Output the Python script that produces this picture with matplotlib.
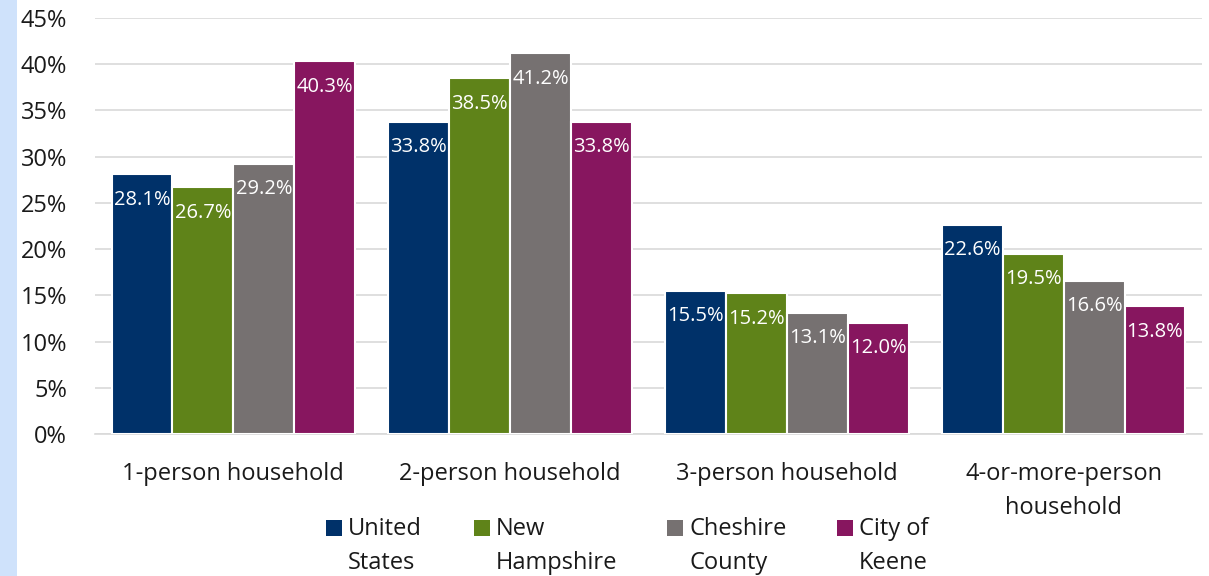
import matplotlib
matplotlib.use('Agg')
from matplotlib import pyplot as plt
from matplotlib.patches import Rectangle
import numpy as np

plt.rcParams['font.family'] = ['Open Sans', 'DejaVu Sans']

categories = ["1-person household", "2-person household", "3-person household",
              "4-or-more-person\nhousehold"]
series_names = ["United\nStates", "New\nHampshire", "Cheshire\nCounty", "City of\nKeene"]
united_states = [28.1, 33.8, 15.5, 22.6]
new_hampshire = [26.7, 38.5, 15.2, 19.5]
cheshire_county = [29.2, 41.2, 13.1, 16.6]
city_of_keene = [40.3, 33.8, 12.0, 13.8]
colors = ["#003169", "#5f8319", "#767171", "#87165f"]

W, H = 1209, 576
fig = plt.figure(figsize=(W / 100, H / 100), dpi=100)
# light blue strip on the left edge
fig.patches.append(Rectangle((0, 0), 17 / W, 1, transform=fig.transFigure,
                             facecolor="#cfe2fb", edgecolor="none", zorder=-1))
ax = fig.add_axes([95 / W, 1 - 434 / H, 1107 / W, (434 - 18) / H])

x = np.arange(len(categories))
width = 0.22
all_series = [united_states, new_hampshire, cheshire_county, city_of_keene]
for i, (vals, col) in enumerate(zip(all_series, colors)):
    bars = ax.bar(x + (i - 1.5) * width, vals, width, color=col, edgecolor="white",
                  linewidth=1.5, zorder=3)
    for b, v in zip(bars, vals):
        ax.text(b.get_x() + b.get_width() / 2, v - 2.75, f"{v:.1f}%", ha="center",
                va="center", color="white", fontsize=14.5, zorder=4)

ax.set_xlim(-0.5, 3.5)
ax.set_ylim(0, 45)
ax.set_yticks(np.arange(0, 46, 5))
ax.set_yticklabels([f"{t}%" for t in range(0, 46, 5)])
ax.set_xticks(x)
ax.set_xticklabels(categories, linespacing=1.55)
ax.tick_params(axis="both", length=0, labelsize=17, colors="#1a1a1a")
ax.tick_params(axis="x", pad=20)
ax.tick_params(axis="y", pad=20)
ax.grid(axis="y", color="#d9d9d9", linewidth=1.2, zorder=0)
for s in ["top", "right", "left"]:
    ax.spines[s].set_visible(False)
ax.spines["bottom"].set_color("#d9d9d9")
ax.spines["bottom"].set_linewidth(1.2)

# legend: square markers aligned with the first line of each two-line label
handle_x = [326, 474, 667, 837]
for hx, name, col in zip(handle_x, series_names, colors):
    fig.patches.append(Rectangle((hx / W, 1 - 536 / H), 16 / W, 16 / H,
                                 transform=fig.transFigure, facecolor=col,
                                 edgecolor="none"))
    fig.text((hx + 22) / W, 1 - 517 / H, name, fontsize=17, color="#1a1a1a",
             ha="left", va="top", linespacing=1.55)

fig.savefig("out.png", dpi=100)
